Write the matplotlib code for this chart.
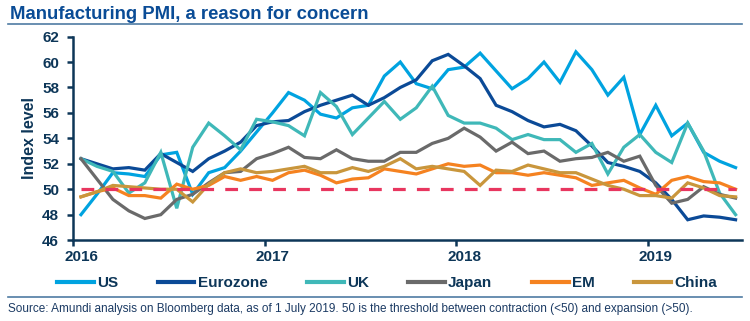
import matplotlib
matplotlib.use("Agg")
import matplotlib.pyplot as plt
from matplotlib.lines import Line2D
import numpy as np

plt.rcParams['font.family'] = ['Liberation Sans', 'DejaVu Sans']

# monthly manufacturing PMI, Jan 2016 - Jun 2019
us = [48.0, 49.6, 51.3, 51.2, 51.0, 52.7, 52.9, 49.6, 51.3, 51.7, 53.0, 54.5,
      56.0, 57.6, 57.0, 55.9, 55.6, 56.4, 56.6, 58.9, 60.0, 58.3, 57.9, 59.4,
      59.6, 60.7, 59.3, 57.9, 58.7, 60.0, 58.4, 60.8, 59.4, 57.4, 58.8, 54.3,
      56.6, 54.2, 55.2, 52.9, 52.2, 51.7]
eurozone = [52.4, 52.0, 51.6, 51.7, 51.5, 52.8, 52.1, 51.4, 52.4, 53.0, 53.7, 55.0,
            55.3, 55.4, 56.1, 56.6, 57.0, 57.4, 56.6, 57.2, 58.0, 58.6, 60.1, 60.6,
            59.7, 58.7, 56.6, 56.1, 55.4, 54.9, 55.1, 54.6, 53.4, 52.1, 51.8, 51.4,
            50.5, 49.2, 47.6, 47.9, 47.8, 47.6]
uk = [52.4, 51.8, 51.4, 49.7, 50.5, 52.9, 48.5, 53.3, 55.2, 54.2, 53.1, 55.5,
      55.3, 55.0, 54.2, 57.6, 56.5, 54.3, 55.6, 56.9, 55.5, 56.4, 58.1, 55.8,
      55.2, 55.2, 54.8, 53.9, 54.3, 53.9, 53.9, 52.9, 53.6, 51.2, 53.3, 54.3,
      52.9, 52.1, 55.2, 53.0, 49.7, 48.0]
japan = [52.4, 50.8, 49.2, 48.3, 47.7, 48.0, 49.2, 49.6, 50.5, 51.3, 51.4, 52.4,
         52.8, 53.3, 52.5, 52.4, 53.1, 52.4, 52.2, 52.2, 52.9, 52.9, 53.6, 54.0,
         54.8, 54.1, 53.0, 53.7, 52.8, 53.0, 52.2, 52.4, 52.5, 52.9, 52.2, 52.6,
         50.3, 48.9, 49.2, 50.2, 49.6, 49.3]
em = [49.4, 49.8, 50.1, 49.5, 49.5, 49.3, 50.4, 50.0, 50.3, 51.0, 50.7, 51.0,
      50.7, 51.3, 51.5, 51.1, 50.5, 50.8, 50.9, 51.6, 51.4, 51.2, 51.6, 52.0,
      51.8, 51.9, 51.3, 51.3, 51.1, 51.3, 51.1, 50.9, 50.3, 50.5, 50.7, 50.1,
      49.6, 50.7, 51.0, 50.6, 50.5, 50.0]
china = [49.4, 49.8, 50.3, 50.2, 50.1, 50.0, 50.0, 49.0, 50.4, 51.3, 51.6, 51.3,
         51.4, 51.6, 51.8, 51.3, 51.3, 51.7, 51.4, 51.8, 52.4, 51.6, 51.8, 51.6,
         51.4, 50.3, 51.5, 51.4, 51.9, 51.6, 51.3, 51.3, 50.8, 50.3, 50.0, 49.5,
         49.5, 49.3, 50.5, 50.1, 49.5, 49.4]
years = ['2016', '2017', '2018', '2019']
threshold = 50

series = [('US', us, '#00A3E0'), ('Eurozone', eurozone, '#0B4A97'),
          ('UK', uk, '#3FB8B8'), ('Japan', japan, '#6A6A6A'),
          ('EM', em, '#F58220'), ('China', china, '#C9963C')]

navy = '#0D3658'
months = np.arange(len(us))

fig = plt.figure(figsize=(7.5, 3.21), dpi=100)
ax = fig.add_axes([0.0973, 0.252, 0.892, 0.634])

handles = []
for name, vals, col in series:
    h, = ax.plot(months, vals, color=col, lw=2.3, solid_joinstyle='miter')
    handles.append(h)
ax.plot([months[0], months[-1]], [threshold, threshold], color='#E8365F',
        lw=2.3, dashes=(4, 3.5), zorder=5)

ax.set_xlim(-0.5, 41.4)
ax.set_ylim(46, 62)
ax.set_yticks(np.arange(46, 63, 2))
ax.set_xticks(np.arange(0, 48, 12))
ax.set_xticklabels(years)
ax.set_xticks(np.arange(0, 48, 12) - 0.5, minor=True)

for s in ['top', 'right']:
    ax.spines[s].set_visible(False)
for s in ['left', 'bottom']:
    ax.spines[s].set_color(navy)
    ax.spines[s].set_linewidth(1.8)

ax.tick_params(axis='y', direction='out', length=4, width=1.8, color=navy,
               labelsize=11, labelcolor=navy, pad=6)
ax.tick_params(axis='x', which='major', length=0, labelsize=11,
               labelcolor=navy, pad=7)
ax.tick_params(axis='x', which='minor', direction='out', length=4, width=1.8,
               color=navy)
for lab in ax.get_xticklabels() + ax.get_yticklabels():
    lab.set_fontweight('bold')

ax.set_ylabel('Index level', fontsize=11.5, fontweight='bold', color=navy,
              labelpad=4)

fig.text(0.013, 0.94, 'Manufacturing PMI, a reason for concern', fontsize=13.3,
         fontweight='bold', color='#0A4C96', va='baseline')
fig.add_artist(Line2D([0.011, 0.989], [0.924, 0.924], color='#4F7BA3', lw=1.2))
fig.add_artist(Line2D([0.011, 0.989], [0.075, 0.075], color='#4F7BA3', lw=1.2))

leg = fig.legend(handles, [s[0] for s in series], loc='center',
                 bbox_to_anchor=(0.516, 0.118), ncol=6, frameon=False,
                 handlelength=2.4, handletextpad=0.2, columnspacing=2.6,
                 prop={'weight': 'bold', 'size': 11})
for t in leg.get_texts():
    t.set_color(navy)
for h in leg.legend_handles:
    h.set_linewidth(3)

fig.text(0.011, 0.037,
         'Source: Amundi analysis on Bloomberg data, as of 1 July 2019. 50 is the '
         'threshold between contraction (<50) and expansion (>50).',
         fontsize=8.5, color='#1B3A63', va='center',
         family=['Liberation Sans Narrow', 'Liberation Sans'])

fig.savefig('out.png', dpi=100)
